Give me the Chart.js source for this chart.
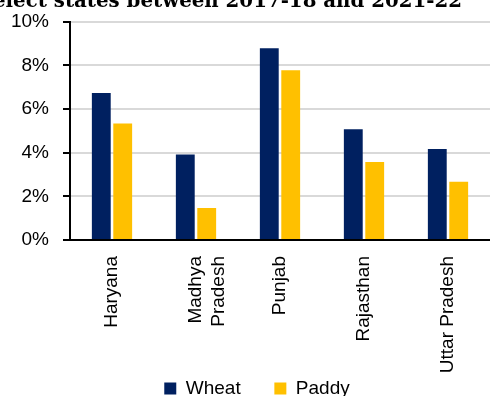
<!DOCTYPE html>
<html>
<head>
<meta charset="utf-8">
<script src="https://cdn.jsdelivr.net/npm/chart.js@4"></script>
<style>
  html, body { margin: 0; padding: 0; background: #fff; overflow: hidden; }
  #wrap { position: relative; width: 490px; height: 396px; overflow: hidden; }
  #title {
    position: absolute; right: 28px; top: -11px;
    font: bold 19.8px "DejaVu Serif", serif;
    line-height: 22px; white-space: nowrap; color: #000;
  }
  #box { position: absolute; left: 0; top: 0; width: 490px; height: 408px; }
</style>
</head>
<body>
<div id="wrap">
  <div id="box"><canvas id="chart"></canvas></div>
  <div id="title">select states between 2017-18 and 2021-22</div>
</div>
<script>
// Categories and series (share, %)
const states = ['Haryana', ['Madhya', 'Pradesh'], 'Punjab', 'Rajasthan', 'Uttar Pradesh'];
const wheat = [6.73, 3.91, 8.78, 5.07, 4.17];
const paddy = [5.33, 1.47, 7.77, 3.57, 2.67];
const yTicks = [0, 2, 4, 6, 8, 10];

const font = { family: '"Liberation Sans", Arial, sans-serif', size: 19 };

// nudge the legend a bit right of centre, as in the original
const legendShift = {
    id: 'legendShift',
    afterLayout(chart) { chart.legend.left += 24; }
};

const ctx = document.getElementById('chart').getContext('2d');
new Chart(ctx, {
    type: 'bar',
    data: {
        labels: states,
        datasets: [
            { label: 'Wheat', data: wheat, backgroundColor: '#002060', borderWidth: 0 },
            { label: 'Paddy', data: paddy, backgroundColor: '#FFC000', borderWidth: 0 }
        ]
    },
    plugins: [legendShift],
    options: {
        responsive: true,
        maintainAspectRatio: false,
        animation: false,
        categoryPercentage: 0.51,
        barPercentage: 0.88,
        layout: { padding: { top: 14, right: 0, left: 0, bottom: 0 } },
        plugins: {
            legend: {
                position: 'bottom',
                labels: {
                    font: { family: font.family, size: 19, lineHeight: 1 },
                    color: '#000',
                    boxWidth: 12,
                    boxHeight: 12,
                    padding: 2,
                    // extra room after the first entry
                    generateLabels: (chart) => {
                        const items = Chart.defaults.plugins.legend.labels.generateLabels(chart);
                        items[0].text = items[0].text + '      ';
                        return items;
                    }
                }
            },
            tooltip: { enabled: false }
        },
        scales: {
            x: {
                grid: { display: false, drawTicks: false },
                border: { color: '#000', width: 2 },
                ticks: {
                    font: font,
                    color: '#000',
                    maxRotation: 90,
                    minRotation: 90,
                    padding: 16
                },
                afterFit: (scale) => { scale.height = 137; }
            },
            y: {
                min: 0,
                max: 10,
                afterBuildTicks: (scale) => { scale.ticks = yTicks.map(v => ({ value: v })); },
                grid: { color: '#d9d9d9', lineWidth: 2, tickColor: '#000', tickLength: 7 },
                border: { color: '#000', width: 2 },
                ticks: {
                    font: { family: font.family, size: 19, lineHeight: 0.8 },
                    color: '#000',
                    padding: 14,
                    callback: (v) => v + '%'
                },
                afterFit: (scale) => { scale.width = 70; }
            }
        }
    }
});
</script>
</body>
</html>
